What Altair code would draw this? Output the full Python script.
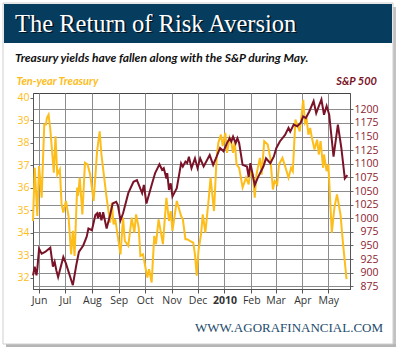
import altair as alt
import pandas as pd

# ---------------- text ----------------
title_text = ["The Return of Risk Aversion"]
subtitle_text = ["Treasury yields have fallen along with the S&P during May."]
left_label = ["Ten-year Treasury"]
right_label = ["S&P 500"]
footer_text = ["WWW.AGORAFINANCIAL.COM"]

# ---------------- data (days since 2009-06-01) ----------------
sp_days = [-7, -5, -3, -2, 0, 3, 7, 13, 16, 18, 20, 22, 28, 31, 39, 43, 46, 51, 55, 57,
           61, 65, 67, 68, 70, 72, 74, 78, 82, 85, 89, 91, 94, 97, 103, 109, 113, 119, 121, 124,
           130, 134, 139, 142, 144, 147, 148, 150, 152, 154, 159, 164, 166, 169, 171, 173, 176, 180, 183, 186,
           190, 194, 197, 201, 205, 209, 213, 217, 220, 222, 224, 227, 229, 231, 235, 240, 242, 244, 249, 253,
           259, 262, 267, 271, 274, 278, 284, 288, 290, 294, 298, 302, 305, 308, 312, 317, 320, 323, 326, 329,
           332, 335, 340, 345, 349, 353, 356]
sp_vals = [895, 911, 895, 907, 944, 935, 938, 946, 911, 920, 904, 892, 929, 917, 877, 914, 938, 950, 966, 981,
           978, 1006, 1009, 1000, 1011, 996, 1011, 981, 1006, 1027, 1030, 1024, 996, 1009, 1046, 1067, 1070, 1046, 1061, 1027,
           1061, 1083, 1099, 1089, 1092, 1073, 1083, 1052, 1064, 1040, 1055, 1101, 1095, 1104, 1101, 1113, 1092, 1110, 1092, 1110,
           1095, 1107, 1116, 1098, 1113, 1129, 1123, 1138, 1147, 1141, 1150, 1138, 1147, 1138, 1098, 1095, 1076, 1101, 1061, 1076,
           1095, 1110, 1101, 1113, 1129, 1141, 1153, 1166, 1159, 1172, 1169, 1175, 1187, 1184, 1196, 1215, 1193, 1206, 1218, 1190,
           1206, 1190, 1113, 1172, 1129, 1073, 1079]

ty_days = [-7, -5, -2, 0, 3, 6, 8, 9, 11, 13, 17, 19, 21, 24, 26, 28, 31, 34, 37, 39,
           41, 44, 45, 47, 50, 53, 56, 59, 63, 67, 70, 72, 78, 82, 84, 86, 88, 94, 97, 99,
           103, 107, 110, 112, 115, 117, 120, 125, 127, 130, 133, 135, 138, 143, 147, 150, 152, 154, 159, 164,
           166, 169, 171, 174, 178, 180, 182, 184, 187, 189, 192, 196, 198, 202, 205, 207, 210, 212, 215, 217,
           220, 222, 224, 226, 228, 231, 235, 239, 242, 244, 247, 249, 251, 255, 257, 260, 264, 267, 270, 272,
           275, 277, 281, 284, 288, 291, 293, 296, 298, 301, 305, 307, 309, 311, 313, 315, 318, 321, 323, 325,
           328, 329, 332, 334, 338, 341, 344, 348, 351, 355]
ty_vals = [34.52, 36.88, 34.74, 36.96, 35.55, 38.80, 38.80, 39.09, 39.24, 38.58,
           36.66, 38.28, 36.58, 36.81, 35.26, 34.89, 35.41, 34.74, 33.04, 34.08,
           32.97, 36.00, 35.63, 36.44, 34.81, 37.10, 37.03, 36.58, 35.41, 37.62,
           38.50, 37.47, 35.55, 34.45, 35.33, 34.37, 34.59, 33.04, 34.67, 33.64,
           33.42, 34.67, 34.00, 34.81, 34.23, 32.97, 33.04, 32.01, 32.38, 31.79,
           33.86, 33.49, 34.59, 33.49, 35.55, 34.52, 34.96, 34.08, 35.41, 34.74,
           34.59, 33.71, 33.71, 33.64, 33.56, 33.04, 32.09, 33.19, 33.93, 34.81,
           34.00, 35.55, 36.44, 34.96, 37.32, 37.99, 38.35, 37.84, 38.43, 37.54,
           38.21, 37.99, 37.54, 38.06, 37.03, 36.88, 36.00, 36.44, 36.14, 36.73,
           36.57, 35.55, 36.58, 37.32, 36.58, 38.06, 37.91, 37.32, 35.92, 36.29,
           36.14, 37.03, 37.32, 36.96, 36.44, 36.88, 36.73, 39.02, 38.80, 38.50,
           39.90, 38.87, 39.02, 38.35, 38.65, 38.21, 37.69, 38.13, 37.47, 38.06,
           36.88, 37.47, 36.73, 37.03, 34.00, 35.11, 35.70, 34.81, 33.49, 31.94]

left_ticks = [32, 33, 34, 35, 36, 37, 38, 39, 40]
right_ticks = [875, 900, 925, 950, 975, 1000, 1025, 1050, 1075, 1100, 1125, 1150, 1175, 1200]

base_date = pd.Timestamp("2009-06-01")
sp = pd.DataFrame({"date": base_date + pd.to_timedelta(sp_days, unit="D"), "value": sp_vals})
ty = pd.DataFrame({"date": base_date + pd.to_timedelta(ty_days, unit="D"), "value": ty_vals})

ORANGE = "#FDBD1B"
MAROON = "#7A1328"
GRID = "#8c8c8c"

x_enc = alt.X(
    "date:T",
    title=None,
    scale=alt.Scale(domain=[alt.DateTime(year=2009, month=5, date=25),
                            alt.DateTime(year=2010, month=5, date=26)]),
    axis=alt.Axis(
        tickCount={"interval": "month", "step": 1},
        labelExpr="month(datum.value) == 0 ? timeFormat(datum.value, '%Y') : timeFormat(datum.value, '%b')",
        labelFontWeight={"condition": {"test": "month(datum.value) == 0", "value": "bold"}, "value": "normal"},
        labelFont="Open Sans", labelFontSize=10.5, labelColor="#333333",
        labelPadding=2, labelOverlap=False, labelFlush=False,
        grid=True, gridColor=GRID, gridWidth=1,
        domainColor="#555555", tickColor="#555555", tickSize=4,
    ),
)

ty_line = alt.Chart(ty).mark_line(color=ORANGE, strokeWidth=2).encode(
    x=x_enc,
    y=alt.Y("value:Q", title=None,
            scale=alt.Scale(domain=[31.5, 40.2], nice=False, zero=False),
            axis=alt.Axis(orient="left", values=left_ticks, grid=False, format="d",
                          labelFont="Open Sans", labelFontSize=10.5, labelColor=ORANGE,
                          labelPadding=1, tickSize=3, tickColor="#666666",
                          domainColor="#555555", labelOverlap=False)),
)

sp_line = alt.Chart(sp).mark_line(color=MAROON, strokeWidth=2).encode(
    x=x_enc,
    y=alt.Y("value:Q", title=None,
            scale=alt.Scale(domain=[870, 1230], nice=False, zero=False),
            axis=alt.Axis(orient="right", values=right_ticks, grid=True, format="d",
                          gridColor=GRID, gridWidth=1,
                          labelFont="Open Sans", labelFontSize=10.5, labelColor="#8C1C2E",
                          labelAlign="right", labelPadding=25, tickSize=3,
                          tickColor="#666666", domainColor="#555555", labelOverlap=False)),
)

one = pd.DataFrame({"t": [""]})

shadow_r = alt.Chart(one).mark_rect(color="#c2c2c2").encode(
    x=alt.value(360), x2=alt.value(363), y=alt.value(-86), y2=alt.value(254))
shadow_b = alt.Chart(one).mark_rect(color="#b5b5b5").encode(
    x=alt.value(-27), x2=alt.value(363), y=alt.value(251), y2=alt.value(254))
card = alt.Chart(one).mark_rect(filled=False, stroke="#cfcfcf", strokeWidth=1).encode(
    x=alt.value(-30), x2=alt.value(360), y=alt.value(-90), y2=alt.value(251))
header = alt.Chart(one).mark_rect(color="#063C5D").encode(
    x=alt.value(-29), x2=alt.value(359), y=alt.value(-89), y2=alt.value(-50))

title_shadow = alt.Chart(pd.DataFrame({"t": title_text})).mark_text(
    align="left", baseline="alphabetic", font="Liberation Serif", fontSize=24.5,
    color="#02131d", dx=1.5, dy=1.5).encode(x=alt.value(-18), y=alt.value(-61.5), text="t:N")
title = alt.Chart(pd.DataFrame({"t": title_text})).mark_text(
    align="left", baseline="alphabetic", font="Liberation Serif", fontSize=24.5,
    color="white").encode(x=alt.value(-18), y=alt.value(-61.5), text="t:N")
subtitle = alt.Chart(pd.DataFrame({"t": subtitle_text})).mark_text(
    align="left", baseline="alphabetic", font="Lato", fontSize=12, fontWeight="bold",
    fontStyle="italic", color="#111111").encode(x=alt.value(-18), y=alt.value(-31), text="t:N")
lbl_left = alt.Chart(pd.DataFrame({"t": left_label})).mark_text(
    align="left", baseline="alphabetic", font="Lato", fontSize=11, fontWeight="bold",
    fontStyle="italic", color=ORANGE).encode(x=alt.value(-16.5), y=alt.value(-8), text="t:N")
lbl_right = alt.Chart(pd.DataFrame({"t": right_label})).mark_text(
    align="right", baseline="alphabetic", font="Lato", fontSize=11, fontWeight="bold",
    fontStyle="italic", color=MAROON).encode(x=alt.value(344), y=alt.value(-8), text="t:N")
footer = alt.Chart(pd.DataFrame({"t": footer_text})).mark_text(
    align="right", baseline="alphabetic", font="Liberation Serif", fontSize=13,
    color="#1D4B6C").encode(x=alt.value(350), y=alt.value(239), text="t:N")

chart = alt.layer(
    shadow_r, shadow_b, card, header, title_shadow, title, subtitle,
    lbl_left, lbl_right, footer, ty_line, sp_line,
).resolve_scale(y="independent").properties(
    width=317, height=196,
    padding={"left": 33, "top": 93, "right": 50, "bottom": 62},
    autosize=alt.AutoSizeParams(type="none"),
    background="white",
).configure_view(stroke="#444444", strokeWidth=1)

chart.save("out.html", embed_options={"renderer": "svg", "actions": False})
